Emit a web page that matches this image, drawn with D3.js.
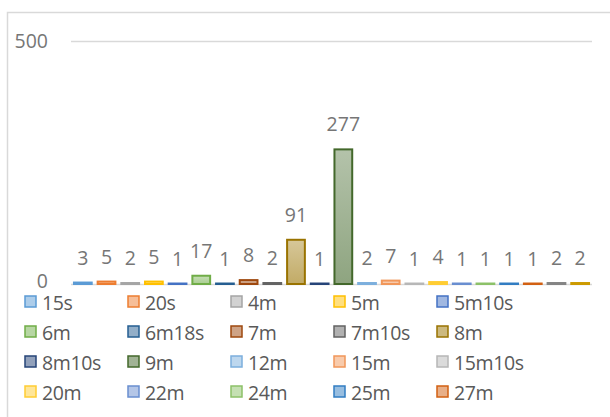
<!DOCTYPE html>
<html>
<head>
<meta charset="utf-8">
<script src="https://cdn.jsdelivr.net/npm/d3@7"></script>
<style>
  html, body { margin: 0; padding: 0; background: #fff; }
  svg { display: block; }
  text { font-family: "Open Sans", "Liberation Sans", sans-serif; }
</style>
</head>
<body>
<svg id="chart" width="610" height="417"></svg>
<script>
const categories = ["15s","20s","4m","5m","5m10s","6m","6m18s","7m","7m10s","8m","8m10s","9m","12m","15m","15m10s","20m","22m","24m","25m","27m","30m","60m"];
const values = [3,5,2,5,1,17,1,8,2,91,1,277,2,7,1,4,1,1,1,1,2,2];
const colors = ["#5B9BD5","#ED7D31","#A5A5A5","#FFC000","#4472C4","#70AD47",
                "#255E91","#9E480E","#636363","#997300","#264478","#43682B",
                "#7CAFDD","#F1975A","#B7B7B7","#FFCD33","#698ED0","#8CC168",
                "#327DC2","#D26012","#848484","#CC9A00"];
const yTicks = [0, 500];

const svg = d3.select("#chart");

// chart area border (clipped by the window like the reference)
svg.append("rect")
  .attr("x", 7.5).attr("y", 12.5).attr("width", 700).attr("height", 500)
  .attr("fill", "none").attr("stroke", "#D9D9D9").attr("stroke-width", 1.5);

const x = d3.scaleBand().domain(categories).range([71, 592]).paddingInner(0.25).paddingOuter(0.125);
const y = d3.scaleLinear().domain([0, 500]).range([284, 41]);

// gridlines
svg.append("g").selectAll("line").data(yTicks).join("line")
  .attr("x1", 71).attr("x2", 592)
  .attr("y1", d => Math.round(y(d)) + 0.5).attr("y2", d => Math.round(y(d)) + 0.5)
  .attr("stroke", "#D9D9D9").attr("stroke-width", 1.5);

// y tick labels
svg.append("g").selectAll("text").data(yTicks).join("text")
  .attr("x", 48).attr("y", d => y(d) + (d === 0 ? 4 : 7))
  .attr("text-anchor", "end")
  .attr("font-size", 19.5).attr("fill", "#767676")
  .text(d => d);

// gradient defs
const defs = svg.append("defs");
colors.forEach((c, i) => {
  const g = defs.append("linearGradient").attr("id", "g" + i)
    .attr("x1", 0).attr("y1", 0).attr("x2", 0).attr("y2", 1);
  g.append("stop").attr("offset", "0%").attr("stop-color", c).attr("stop-opacity", 0.4);
  g.append("stop").attr("offset", "100%").attr("stop-color", c).attr("stop-opacity", 0.6);
});

// bars
svg.append("g").selectAll("rect").data(categories).join("rect")
  .attr("x", d => x(d))
  .attr("width", x.bandwidth())
  .attr("y", (d, i) => y(values[i]))
  .attr("height", (d, i) => y(0) - y(values[i]))
  .attr("fill", (d, i) => "url(#g" + i + ")")
  .attr("stroke", (d, i) => colors[i])
  .attr("stroke-width", 2);

// value labels
svg.append("g").selectAll("text").data(categories).join("text")
  .attr("x", d => x(d) + x.bandwidth() / 2)
  .attr("y", (d, i) => y(values[i]) - 18)
  .attr("text-anchor", "middle")
  .attr("font-size", 19.5).attr("fill", "#767676")
  .text((d, i) => values[i]);

// legend
const legend = svg.append("g");
categories.forEach((c, i) => {
  const col = i % 5, row = Math.floor(i / 5);
  const lx = 25 + col * 103, ly = 302 + row * 30;
  if (ly > 410) return;
  legend.append("rect")
    .attr("x", lx).attr("y", ly - 6).attr("width", 11).attr("height", 11)
    .attr("fill", colors[i]).attr("fill-opacity", 0.5)
    .attr("stroke", colors[i]).attr("stroke-width", 1.5);
  legend.append("text")
    .attr("x", lx + 17).attr("y", ly + 8)
    .attr("font-size", 19.5).attr("letter-spacing", -0.4).attr("fill", "#595959")
    .text(c);
});
</script>
</body>
</html>
